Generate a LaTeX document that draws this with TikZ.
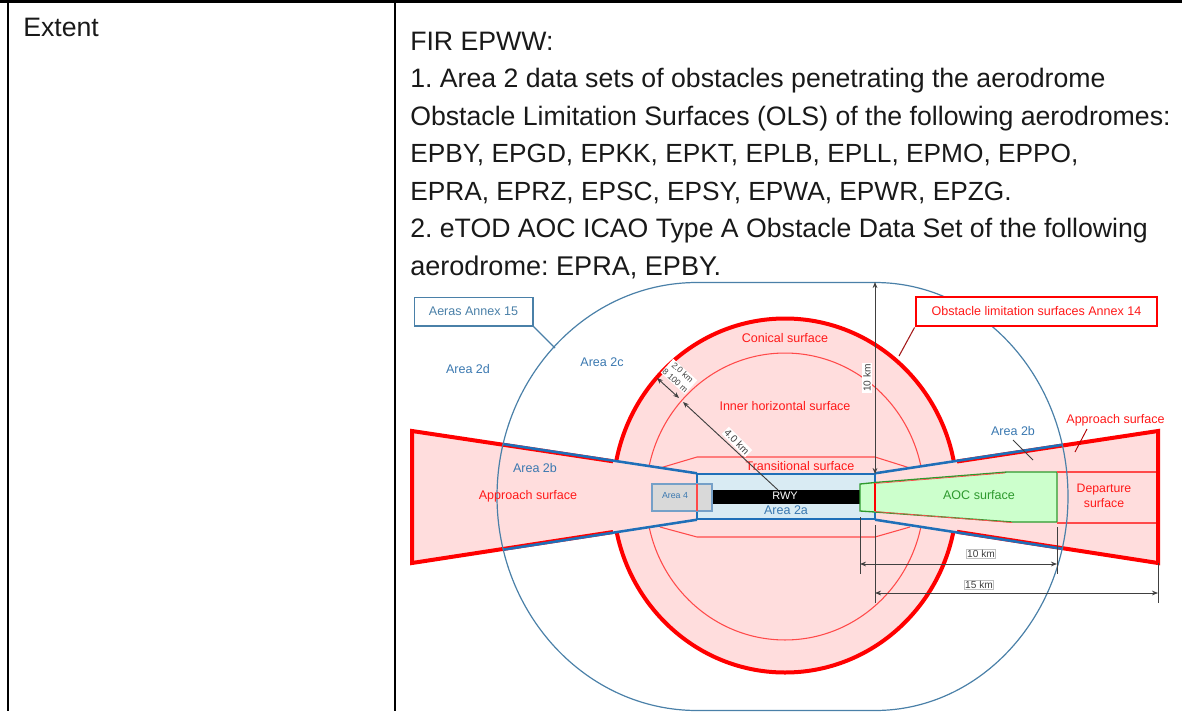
\documentclass[tikz,border=0pt]{standalone}
\usepackage{fontspec}
\setmainfont{Liberation Sans}
\usetikzlibrary{arrows.meta}
\definecolor{pinkfill}{HTML}{FFDDDD}
\definecolor{strokeblue}{HTML}{1F6FB8}
\definecolor{thinblue}{HTML}{4A80A8}
\definecolor{textblue}{HTML}{3A78B0}
\definecolor{softred}{HTML}{FF4A4A}
\definecolor{greenfill}{HTML}{CCFFCC}
\definecolor{greenline}{HTML}{2E9A2E}
\definecolor{area2a}{HTML}{D9EBF3}
\definecolor{dimgray}{HTML}{404040}
\frenchspacing
\tikzset{
  body/.style={anchor=base west,inner sep=0pt,font=\fontsize{20}{23}\selectfont,text=black!90},
  lblred/.style={inner sep=0pt,text=red!90!white,font=\fontsize{9.4}{11}\selectfont,align=center},
  lblblue/.style={inner sep=0pt,text=textblue,font=\fontsize{9.4}{11}\selectfont,align=center},
  dimtext/.style={inner sep=1pt,text=dimgray,fill=white,font=\fontsize{7.6}{8.5}\selectfont,align=center},
  thickred/.style={draw=red,line width=3pt},
  thickblue/.style={draw=strokeblue,line width=1.9pt},
  thinred/.style={draw=softred,line width=0.8pt},
  dimline/.style={draw=dimgray,line width=0.7pt},
  dimarrow/.style={dimline,{Stealth[length=4.5pt,width=3.5pt]}-{Stealth[length=4.5pt,width=3.5pt]}},
  tablerule/.style={draw=black,line width=1.6pt}
}
\begin{document}
\begin{tikzpicture}[x=0.75pt,y=-0.75pt]
\useasboundingbox (0,0) rectangle (1182,711);
\clip (0,0) rectangle (1182,711);
% table
\coordinate (tz) at (0,1.5); \coordinate (tl) at (8,1.5); \coordinate (tm) at (395,1.5); \coordinate (tr) at (1182,1.5);
\coordinate (bl) at (8,711); \coordinate (bm) at (395,711);
\draw[tablerule] (tz) -- (tr);
\draw[tablerule] (tl) -- (bl);
\draw[tablerule] (tm) -- (bm);
\node[body] (extent) at (23,36) {Extent};
\node[body] (l0) at (410,50) {FIR EPWW:};
\node[body] (l1) at (410,87.5) {1. Area 2 data sets of obstacles penetrating the aerodrome};
\node[body] (l2) at (410,125) {Obstacle Limitation Surfaces (OLS) of the following aerodromes:};
\node[body,font=\fontsize{19.7}{23}\selectfont] (l3) at (410,162.5) {EPBY, EPGD, EPKK, EPKT, EPLB, EPLL, EPMO, EPPO,};
\node[body,font=\fontsize{19.7}{23}\selectfont] (l4) at (410,200) {EPRA, EPRZ, EPSC, EPSY, EPWA, EPWR, EPZG.};
\node[body] (l5) at (410,237.5) {2. eTOD AOC ICAO Type A Obstacle Data Set of the following};
\node[body,font=\fontsize{20.3}{23}\selectfont] (l6) at (410,275) {aerodrome: EPRA, EPBY.};
% conical + inner
\path[fill=pinkfill,thickred] (785,495.5) ellipse[x radius=129pt,y radius=132.75pt];
\draw[thinred] (785,496.5) ellipse[x radius=104.25pt,y radius=107.6pt];
% transitional
\draw[thinred] (660,468) -- (697,457) -- (875,457) -- (910,468);
\draw[thinred] (660,527) -- (697,537) -- (875,537) -- (910,527);
% approach trapezoids
\fill[pinkfill] (412,431) -- (697,474) -- (697,519) -- (412,563) -- cycle;
\fill[pinkfill] (1158,431) -- (875,474) -- (875,519) -- (1158,563) -- cycle;
% area 2a and runway
\path[fill=area2a,thickblue,line join=miter] (697,474) rectangle (875,519);
\fill[black] (712,490) rectangle (860,504);
\node[text=white,inner sep=0pt,font=\fontsize{8.2}{9}\selectfont] (rwy) at (785,496) {RWY};
% area 4
\path[fill=black!15,draw=textblue!70,line width=1pt] (652,484) rectangle (712,511);
\draw[softred,line width=1pt] (697,484) -- (697,511);
% AOC
\path[fill=greenfill,draw=greenline,line width=1pt] (860,484) -- (875,482.5) -- (1007,472) -- (1057,472) -- (1057,522) -- (1012,522) -- (875,512) -- (860,511) -- cycle;
\draw[red,line width=1.4pt] (875,483) -- (875,511);
\draw[softred,line width=0.5pt] (875,483.5) -- (1005,473);
\draw[softred,line width=0.5pt] (875,511.5) -- (1012,522.6);
% departure lines
\draw[thinred] (1057,472) -- (1157,472);
\draw[thinred] (1057,523) -- (1157,523);
% red outlines of approach surfaces
\draw[thickred,line join=miter] (613,461.3) -- (412,431) -- (412,563) -- (613,532);
\draw[thickred,line join=miter] (957,461.5) -- (1158,431) -- (1158,563) -- (957,531.8);
% blue outlines
\draw[thickblue] (503,444) -- (697,473.3);
\draw[thickblue] (503,549.7) -- (697,519.7);
\draw[thickblue] (875,473.3) -- (1063,444.7);
\draw[thickblue] (875,519.7) -- (1063,548.9);
% outer area boundary
\draw[thinblue,line width=0.9pt] (697,282.5) -- (875,282.5) arc[start angle=90,end angle=-90,x radius=144.75pt,y radius=160.5pt] -- (697,710.5) arc[start angle=270,end angle=90,x radius=150pt,y radius=160.5pt] -- cycle;
% callout boxes
\node[draw=thinblue,line width=1pt,fill=white,minimum width=89pt,minimum height=21.5pt,inner sep=0pt,text=thinblue,font=\fontsize{9.4}{11}\selectfont] (annex15) at (473.5,311.5) {Aeras Annex 15};
\coordinate (annex15end) at (555,348);
\draw[thinblue,line width=0.9pt] (annex15.south east) -- (annex15end);
\node[draw=red,line width=1.9pt,fill=white,minimum width=181pt,minimum height=22pt,inner sep=0pt,text=red!90!white,font=\fontsize{9.4}{11}\selectfont] (annex14) at (1036.5,311.5) {Obstacle limitation surfaces Annex 14};
\coordinate (annex14end) at (899,356);
\draw[draw=red!60!black!90,line width=0.8pt] (annex14.south west) -- (annex14end);
% labels
\node[lblblue] (a2d) at (468,369.5) {Area 2d};
\node[lblblue] (a2c) at (602,362.5) {Area 2c};
\node[lblred] (conical) at (785,338.5) {Conical surface};
\node[lblred] (inner) at (785,406.5) {Inner horizontal surface};
\node[lblred] (trans) at (800,466) {Transitional surface};
\node[lblblue] (a2a) at (786,510) {Area 2a};
\node[lblblue] (a2bl) at (535,468.5) {Area 2b};
\node[lblred] (appl) at (528,496) {Approach surface};
\node[lblblue,font=\fontsize{6.6}{8}\selectfont] (a4) at (675,496) {Area 4};
\node[text=greenline,inner sep=0pt,font=\fontsize{9.4}{11}\selectfont] (aoc) at (979,495.5) {AOC surface};
\node[lblred,font=\fontsize{9.2}{11.2}\selectfont] (dep) at (1104,495.5) {Departure\\surface};
\node[lblblue] (a2br) at (1013,431.5) {Area 2b};
\coordinate (a2bend) at (1033,460);
\draw[dimline,line width=0.6pt] (1013,440) -- (a2bend);
\node[lblred] (appr) at (1115.5,420) {Approach surface};
\coordinate (apprend) at (1075,452);
\draw[draw=red!70!black,line width=0.7pt] (1087,429) -- (apprend);
% dimensions
\coordinate (top10) at (875,282); \coordinate (bot10) at (875,474);
\draw[dimarrow] (top10) -- (bot10);
\node[dimtext,rotate=90] (d10) at (867,378) {10 km};
\coordinate (e1a) at (875,525); \coordinate (e1b) at (875,603);
\coordinate (e2a) at (860,517); \coordinate (e2b) at (860,574);
\coordinate (e3a) at (1057,527); \coordinate (e3b) at (1057,574);
\coordinate (e4a) at (1158,563); \coordinate (e4b) at (1158,603);
\draw[dimline] (e1a) -- (e1b);
\draw[dimline] (e2a) -- (e2b);
\draw[dimline] (e3a) -- (e3b);
\draw[dimline] (e4a) -- (e4b);
\coordinate (h1a) at (860,564); \coordinate (h1b) at (1057,564);
\coordinate (h2a) at (875,593); \coordinate (h2b) at (1158,593);
\draw[dimarrow] (h1a) -- (h1b);
\draw[dimarrow] (h2a) -- (h2b);
\node[dimtext,draw=black!25,line width=0.4pt,inner sep=0.6pt] (dh1) at (981,554) {10 km};
\node[dimtext,draw=black!25,line width=0.4pt,inner sep=0.6pt] (dh2) at (979,585) {15 km};
\coordinate (dg1) at (657,378); \coordinate (dg2) at (679,398);
\coordinate (dg3) at (683,402); \coordinate (dg4) at (778,490);
\draw[dimarrow] (dg1) -- (dg2);
\draw[dimline,{Stealth[length=4.5pt,width=3.5pt]}-] (dg3) -- (dg4);
\node[dimtext,rotate=-42,inner sep=0.5pt,font=\fontsize{6.4}{8.3}\selectfont] (d2km) at (679,376.5) {2.0 km\\8 100 m};
\node[dimtext,rotate=-45,font=\fontsize{7.6}{8.5}\selectfont] (d4km) at (737,442) {4.0 km};
\end{tikzpicture}
\end{document}
